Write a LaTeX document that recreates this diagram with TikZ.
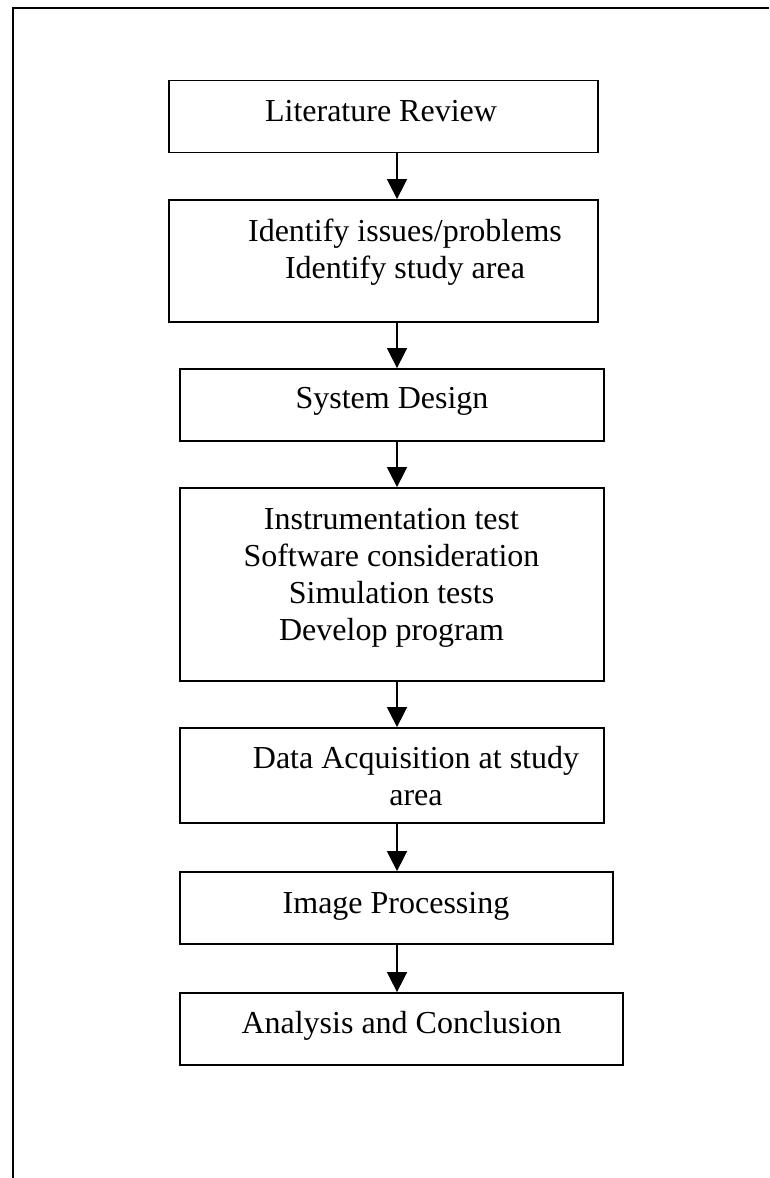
\documentclass[tikz,border=0pt]{standalone}
\usepackage{fontspec}
\setmainfont{Liberation Serif}
\usetikzlibrary{arrows.meta}

\begin{document}
\begin{tikzpicture}[x=1pt,y=-1pt,
		stepbox/.style={draw,line width=1.8pt,inner sep=0pt,minimum width=424pt},
		flow/.style={line width=1.6pt,-{Triangle[width=20pt,length=20pt]}},
		lbl/.style={anchor=base,align=center,inner sep=0pt,font=\fontsize{32}{37}\selectfont}]
		\useasboundingbox (0,0) rectangle (769,1178);
		\draw[line width=2pt] (12.5,1178) -- (12.5,8) -- (769,8);
		\coordinate (axis) at (397,0);
		\node[stepbox,minimum width=429pt,minimum height=72pt] (lit) at (383.5,116.5) {};
		\node[stepbox,minimum width=429pt,minimum height=122pt] (ident) at (383.5,261) {};
		\node[stepbox,minimum height=72pt] (design) at (392,405) {};
		\node[stepbox,minimum height=193pt] (tests) at (392,584.5) {};
		\node[stepbox,minimum height=95pt] (acq) at (392,775.5) {};
		\node[stepbox,minimum width=433pt,minimum height=72pt] (proc) at (396.5,908) {};
		\node[stepbox,minimum width=443pt,minimum height=72pt] (concl) at (401.5,1029) {};
		\node[lbl] (litT) at (381,121) {Literature Review};
		\node[lbl] (identT) at (405,278.5) {Identify issues/problems\\Identify study area};
		\node[lbl] (designT) at (392,408) {System Design};
		\node[lbl] (testsT) at (391.5,640.5) {Instrumentation test\\Software consideration\\Simulation tests\\Develop program};
		\node[lbl] (acqT) at (416,805) {Data Acquisition at study\\area};
		\node[lbl] (procT) at (396,913) {Image Processing};
		\node[lbl] (conclT) at (401.5,1033) {Analysis and Conclusion};
		\draw[flow] (axis |- lit.south) -- (axis |- ident.north);
		\draw[flow] (axis |- ident.south) -- (axis |- design.north);
		\draw[flow] (axis |- design.south) -- (axis |- tests.north);
		\draw[flow] (axis |- tests.south) -- (axis |- acq.north);
		\draw[flow] (axis |- acq.south) -- (axis |- proc.north);
		\draw[flow] (axis |- proc.south) -- (axis |- concl.north);
\end{tikzpicture}
\end{document}
